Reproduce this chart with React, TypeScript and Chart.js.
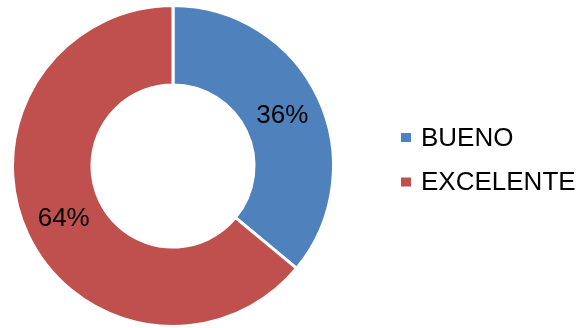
import React, { useEffect, useRef } from "react";
import { Chart, registerables } from "chart.js";

Chart.register(...registerables);

const categories: string[] = ["BUENO", "EXCELENTE"];
const values: number[] = [36, 64];
const colors: string[] = ["#4F81BD", "#C0504D"];

const FONT = "'Liberation Sans', Arial, sans-serif";

const overlayPlugin = {
  id: "overlay",
  afterDatasetsDraw(chart: any) {
    const ctx = chart.ctx as CanvasRenderingContext2D;
    const meta = chart.getDatasetMeta(0);
    ctx.save();
    ctx.fillStyle = "#000000";
    ctx.font = `26px ${FONT}`;
    ctx.textAlign = "center";
    ctx.textBaseline = "middle";
    meta.data.forEach((arc: any, i: number) => {
      const p = arc.tooltipPosition();
      ctx.fillText(`${values[i]}%`, p.x, p.y + 1);
    });
    ctx.restore();

    // legend
    ctx.save();
    ctx.font = `26px ${FONT}`;
    ctx.textAlign = "left";
    ctx.textBaseline = "alphabetic";
    const legendX = 401;
    const rowY = [137.5, 182];
    categories.forEach((c, i) => {
      ctx.fillStyle = colors[i];
      ctx.fillRect(legendX, rowY[i] - 4.5, 10, 9);
      ctx.fillStyle = "#000000";
      ctx.fillText(c, legendX + 20, rowY[i] + 8);
    });
    ctx.restore();
  },
};

export default function App() {
  const ref = useRef<HTMLCanvasElement | null>(null);
  useEffect(() => {
    if (!ref.current) return;
    const chart = new Chart(ref.current, {
      type: "doughnut",
      data: {
        labels: categories,
        datasets: [
          {
            data: values,
            backgroundColor: colors,
            borderColor: "#FFFFFF",
            borderWidth: 3,
            hoverOffset: 0,
          },
        ],
      },
      options: {
        responsive: false,
        animation: false,
        cutout: "50.5%",
        layout: { padding: { left: 10, top: 4, right: 249, bottom: -3 } },
        plugins: {
          legend: { display: false },
          tooltip: { enabled: false },
        },
      },
      plugins: [overlayPlugin],
    });
    return () => chart.destroy();
  }, []);
  return (
    <div style={{ position: "fixed", left: 0, top: 0, width: 585, height: 328, background: "#fff" }}>
      <canvas ref={ref} width={585} height={328} style={{ display: "block" }} />
    </div>
  );
}
